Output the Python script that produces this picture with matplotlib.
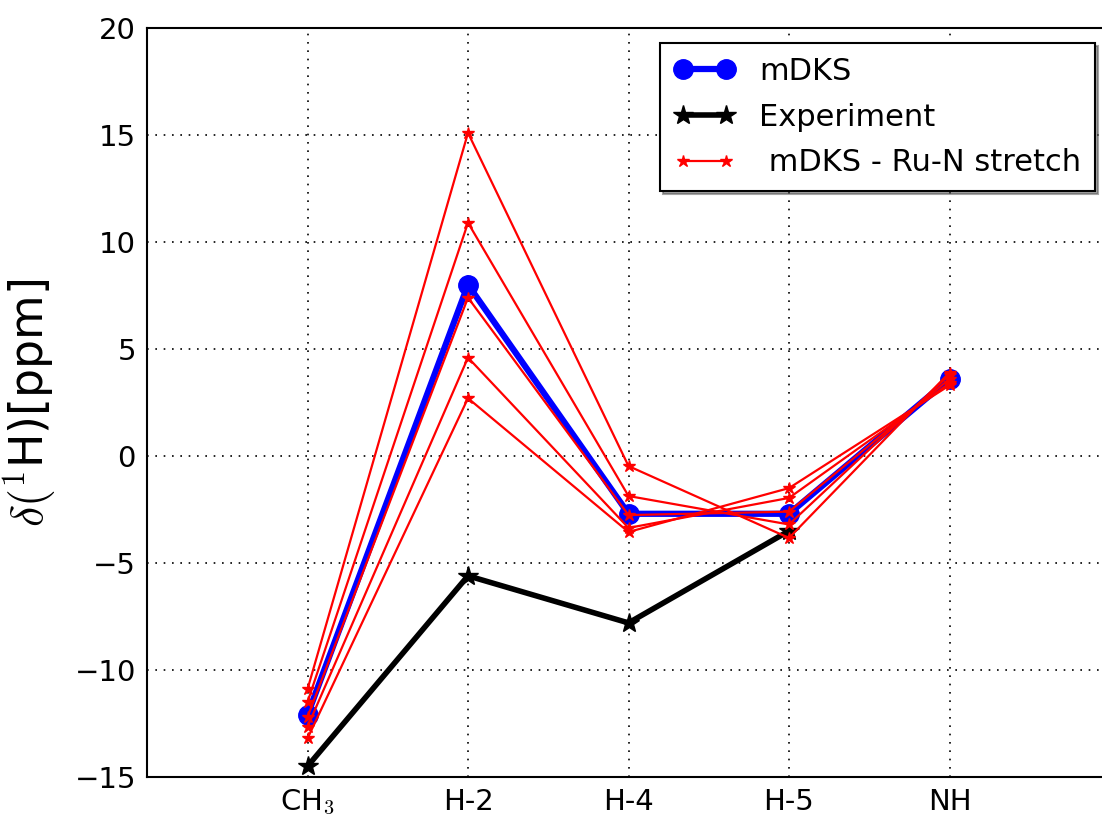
import matplotlib
matplotlib.use("Agg")
import matplotlib.pyplot as plt
import numpy as np

plt.rcParams['mathtext.fontset'] = 'cm'
plt.rcParams['font.family'] = ['DejaVu Sans']

categories = ['CH$_3$', 'H-2', 'H-4', 'H-5', 'NH']
mdks = [-12.1, 8.0, -2.7, -2.7, 3.6]
experiment = [-14.5, -5.6, -7.8, -3.5, np.nan]
stretch = [
    [-10.9, 15.1, -0.47, -3.83, 3.9],
    [-11.5, 10.9, -1.87, -3.2, 3.8],
    [-12.2, 7.4, -2.76, -2.6, 3.6],
    [-12.66, 4.6, -3.36, -1.96, 3.4],
    [-13.2, 2.7, -3.55, -1.5, 3.3],
]
yticks = [-15, -10, -5, 0, 5, 10, 15, 20]

W, H = 1102, 817
fig = plt.figure(figsize=(W / 100, H / 100), dpi=100)
ax = fig.add_axes([147 / W, 1 - 777 / H, (1110 - 147) / W, (777 - 28) / H])

x = np.arange(len(categories))
h_m, = ax.plot(x, mdks, color='blue', lw=4.5, marker='o', ms=14, mec='blue',
               label='mDKS', zorder=3)
h_e, = ax.plot(x, experiment, color='black', lw=4, marker='*', ms=15,
               label='Experiment', zorder=3)
red_handles = []
for i, s in enumerate(stretch):
    h, = ax.plot(x, s, color='red', lw=1.6, marker='*', ms=9, mec='red',
                 label=' mDKS - Ru-N stretch' if i == 0 else None, zorder=4)
    red_handles.append(h)
h_r = red_handles[0]

ax.set_xlim(-1, 5)
ax.set_ylim(-15, 20)
ax.set_xticks(x)
ax.set_xticklabels(categories, fontsize=21)
ax.set_yticks(yticks)
ax.tick_params(axis='y', labelsize=21)
ax.tick_params(direction='in', length=0, pad=8)
ax.grid(True, color='black', linestyle=(0, (1, 4)), linewidth=1.2)
for sp in ax.spines.values():
    sp.set_linewidth(1.5)
ax.set_ylabel(r'$\delta(^1$H)[ppm]', fontsize=33, labelpad=12)

leg = fig.legend(handles=[h_m, h_e, h_r],
                 labels=['mDKS', 'Experiment', ' mDKS - Ru-N stretch'],
                 loc='upper right',
                 bbox_to_anchor=(1095 / W, 1 - 43 / H), fontsize=22,
                 shadow=True, fancybox=False, numpoints=2, handlelength=2.0,
                 handletextpad=0.8, borderpad=0.45,
                 borderaxespad=0, framealpha=1, edgecolor='black',
                 labelspacing=0.55)
leg.get_frame().set_linewidth(1.5)

fig.savefig('out.png', dpi=100)
